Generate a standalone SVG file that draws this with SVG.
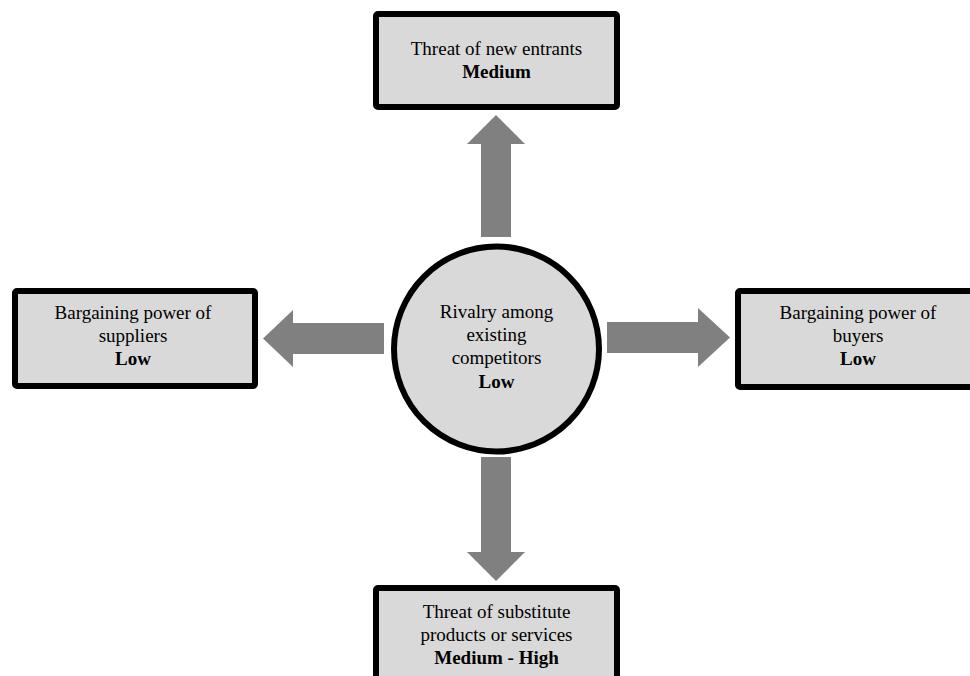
<svg xmlns="http://www.w3.org/2000/svg" width="970" height="676" viewBox="0 0 970 676">
<style>
.box{fill:#d9d9d9;stroke:#000;stroke-width:6;}
.arr{fill:#808080;}
text{font-size:19px;fill:#000;text-anchor:middle;}
.b{font-weight:bold;}
</style>
<rect width="970" height="676" fill="#fff"/>
<g id="connectors">
<polygon class="arr" points="481,237 481,144 467,144 496,115 525,144 511,144 511,237"/>
<polygon class="arr" points="481,457 511,457 511,552 525,552 496,581 467,552 481,552"/>
<polygon class="arr" points="384,323 293,323 293,310 263,338.5 293,367 293,354 384,354"/>
<polygon class="arr" points="607,322 698,322 698,308 730,337.5 698,367 698,353 607,353"/>
</g>
<g font-family="Liberation Serif, DejaVu Serif, serif">
<g id="top">
<rect class="box" x="376" y="14" width="241" height="93" rx="2"/>
<text x="496.5" y="55">Threat of new entrants</text>
<text class="b" x="496.5" y="78">Medium</text>
</g>
<g id="left">
<rect class="box" x="15" y="291" width="240" height="95" rx="2"/>
<text x="133" y="319">Bargaining power of</text>
<text x="133" y="342">suppliers</text>
<text class="b" x="133" y="365">Low</text>
</g>
<g id="center">
<circle class="box" cx="496.5" cy="349" r="102.5"/>
<text x="496.5" y="318">Rivalry among</text>
<text x="496.5" y="341">existing</text>
<text x="496.5" y="364">competitors</text>
<text class="b" x="496.5" y="388">Low</text>
</g>
<g id="right">
<rect class="box" x="738" y="291" width="240" height="96" rx="2"/>
<text x="858" y="319">Bargaining power of</text>
<text x="858" y="342">buyers</text>
<text class="b" x="858" y="365">Low</text>
</g>
<g id="bottom">
<rect class="box" x="376" y="588" width="241" height="100" rx="2"/>
<text x="496.5" y="618">Threat of substitute</text>
<text x="496.5" y="641">products or services</text>
<text class="b" x="496.5" y="664">Medium - High</text>
</g>
</g>
</svg>
